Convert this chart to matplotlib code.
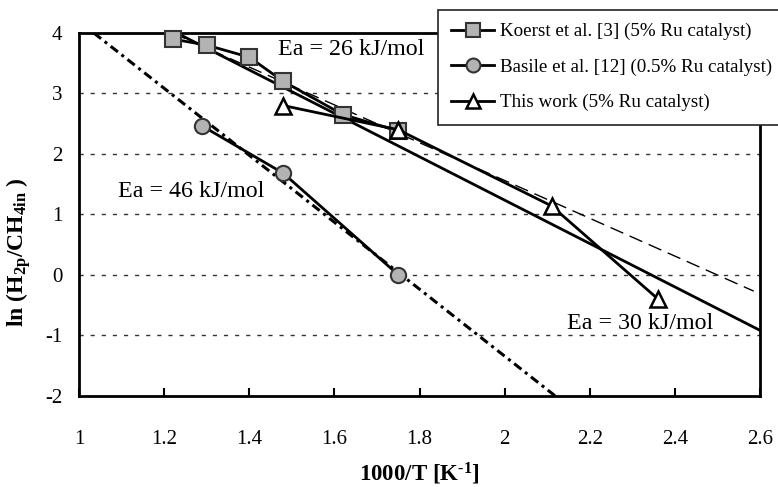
import matplotlib
matplotlib.use("Agg")
import matplotlib.pyplot as plt
from matplotlib.lines import Line2D

plt.rcParams['font.family'] = ['Liberation Serif', 'DejaVu Serif']
plt.rcParams['mathtext.fontset'] = 'custom'
plt.rcParams['mathtext.rm'] = 'Liberation Serif:bold'
plt.rcParams['mathtext.bf'] = 'Liberation Serif:bold'
plt.rcParams['mathtext.it'] = 'Liberation Serif:italic'
plt.rcParams['axes.unicode_minus'] = False

# data
koerst_x = [1.22, 1.30, 1.40, 1.48, 1.62, 1.75]
koerst_y = [3.90, 3.80, 3.60, 3.20, 2.65, 2.38]
basile_x = [1.29, 1.48, 1.75]
basile_y = [2.46, 1.68, 0.00]
this_x = [1.48, 1.75, 2.11, 2.36]
this_y = [2.80, 2.40, 1.14, -0.40]

# Arrhenius fit lines (endpoints)
basile_fit_x = [1.035, 2.118]
basile_fit_y = [4.00, -2.00]
koerst_fit_x = [1.22, 2.585]
koerst_fit_y = [4.00, -0.27]
this_fit_x = [1.23, 2.60]
this_fit_y = [4.00, -0.92]

xticks = [1, 1.2, 1.4, 1.6, 1.8, 2, 2.2, 2.4, 2.6]
xtick_labels = ['1', '1.2', '1.4', '1.6', '1.8', '2', '2.2', '2.4', '2.6']
yticks = [-2, -1, 0, 1, 2, 3, 4]
ytick_labels = ['-2', '-1', '0', '1', '2', '3', '4']

fig = plt.figure(figsize=(7.78, 4.87), dpi=100)
ax = fig.add_axes([0.1015, 0.1875, 0.8755, 0.7447])

for yv in [-1, 0, 1, 2, 3]:
    ax.axhline(yv, color='#333333', lw=1.0, ls=(0, (3, 5)), zorder=1)

ax.plot(basile_fit_x, basile_fit_y, color='black', lw=2.2, ls=(0, (3, 1.5, 1, 1.5)), zorder=2)
ax.plot(koerst_fit_x, koerst_fit_y, color='black', lw=1.0, ls=(0, (10, 5)), zorder=2)
ax.plot(this_fit_x, this_fit_y, color='black', lw=2.0, ls='-', zorder=2)

ax.plot(koerst_x, koerst_y, color='black', lw=2.0, marker='s', ms=11,
        mfc='#b3b3b3', mec='#333333', mew=1.5, zorder=4, clip_on=False)
ax.plot(basile_x, basile_y, color='black', lw=2.0, marker='o', ms=11,
        mfc='#b3b3b3', mec='#333333', mew=1.5, zorder=4, clip_on=False)
ax.plot(this_x, this_y, color='black', lw=2.0, marker='^', ms=11,
        mfc='white', mec='black', mew=1.8, zorder=5, clip_on=False)

ax.set_xlim(1, 2.6)
ax.set_ylim(-2, 4)
ax.set_xticks(xticks)
ax.set_xticklabels(xtick_labels, fontsize=15)
ax.set_yticks(yticks)
ax.set_yticklabels(ytick_labels, fontsize=15)
ax.tick_params(axis='x', direction='in', length=6, width=1.5, pad=25)
ax.tick_params(axis='y', length=0, pad=12)
for s in ax.spines.values():
    s.set_linewidth(2.0)

ax.text(1.4676, 3.72, 'Ea = 26 kJ/mol', fontsize=17.3, ha='left', va='center', zorder=3)
ax.text(1.0916, 1.37, 'Ea = 46 kJ/mol', fontsize=17.3, ha='left', va='center', zorder=3)
ax.text(2.1466, -0.80, 'Ea = 30 kJ/mol', fontsize=17.3, ha='left', va='center', zorder=3)

ax.set_xlabel(r'1000/T [K$^{\text{-}1}$]', fontsize=16.5, fontweight='bold', labelpad=8)
ax.set_ylabel(r'ln (H$_{\mathbf{2p}}$/CH$_{\mathbf{4in}}$ )', fontsize=17, fontweight='bold', labelpad=10)
ax.yaxis.set_label_coords(-0.067, 0.396)

handles = [
    Line2D([], [], color='black', lw=2.0, marker='s', ms=10, mfc='#b3b3b3', mec='#333333', mew=1.5),
    Line2D([], [], color='black', lw=2.0, marker='o', ms=10, mfc='#b3b3b3', mec='#333333', mew=1.5),
    Line2D([], [], color='black', lw=2.0, marker='^', ms=10, mfc='white', mec='black', mew=1.8),
]
labels = ['Koerst et al. [3] (5% Ru catalyst)',
          'Basile et al. [12] (0.5% Ru catalyst)',
          'This work (5% Ru catalyst)']
leg = fig.legend(handles, labels, loc='upper left', bbox_to_anchor=(0.563, 0.98),
                 fontsize=13.7, frameon=True, fancybox=False, edgecolor='#222222',
                 framealpha=1, handlelength=2.25, handletextpad=0.3, borderpad=0.7,
                 labelspacing=0.95, borderaxespad=0)
leg.get_frame().set_linewidth(1.2)
leg.set_zorder(10)

fig.savefig('out.png', dpi=100)
